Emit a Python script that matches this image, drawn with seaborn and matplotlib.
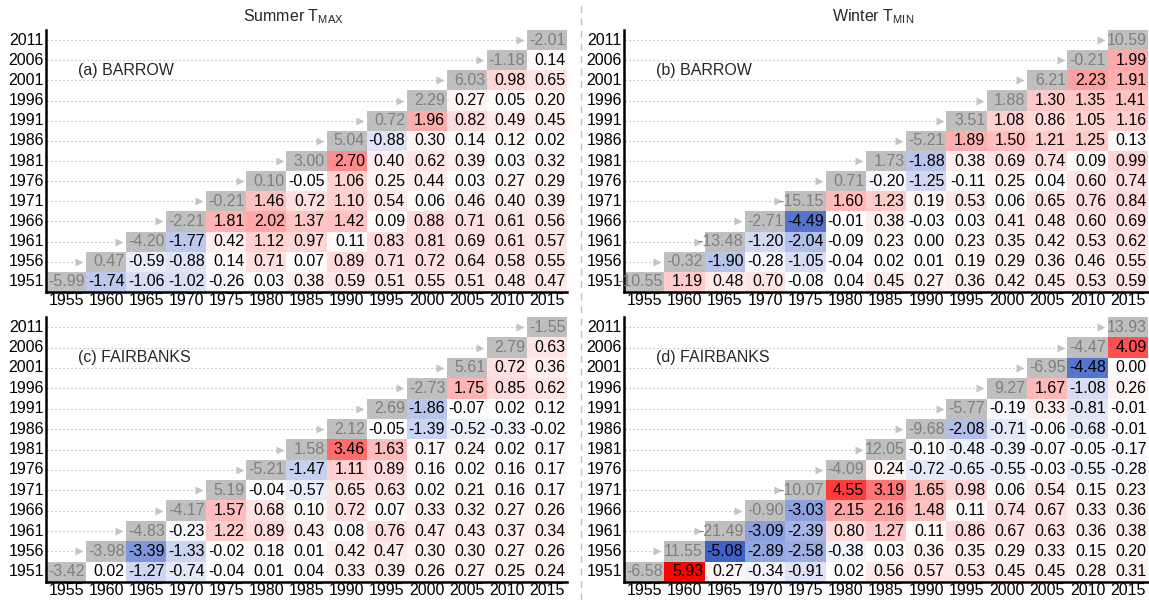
import numpy as np
import pandas as pd
import matplotlib
matplotlib.use("Agg")
import matplotlib.pyplot as plt
import seaborn as sns
from matplotlib.colors import LinearSegmentedColormap, ListedColormap
from matplotlib.lines import Line2D
from matplotlib import font_manager

# ---------------- data ----------------
start_years = [1951, 1956, 1961, 1966, 1971, 1976, 1981, 1986, 1991, 1996, 2001, 2006, 2011]
end_years = [1955, 1960, 1965, 1970, 1975, 1980, 1985, 1990, 1995, 2000, 2005, 2010, 2015]

# each row: start year, values for end years from the diagonal onwards
barrow_tmax = [
    [-5.99, -1.74, -1.06, -1.02, -0.26, 0.03, 0.38, 0.59, 0.51, 0.55, 0.51, 0.48, 0.47],
    [0.47, -0.59, -0.88, 0.14, 0.71, 0.07, 0.89, 0.71, 0.72, 0.64, 0.58, 0.55],
    [-4.20, -1.77, 0.42, 1.12, 0.97, 0.11, 0.83, 0.81, 0.69, 0.61, 0.57],
    [-2.21, 1.81, 2.02, 1.37, 1.42, 0.09, 0.88, 0.71, 0.61, 0.56],
    [-0.21, 1.46, 0.72, 1.10, 0.54, 0.06, 0.46, 0.40, 0.39],
    [0.10, -0.05, 1.06, 0.25, 0.44, 0.03, 0.27, 0.29],
    [3.00, 2.70, 0.40, 0.62, 0.39, 0.03, 0.32],
    [5.04, -0.88, 0.30, 0.14, 0.12, 0.02],
    [0.72, 1.96, 0.82, 0.49, 0.45],
    [2.29, 0.27, 0.05, 0.20],
    [6.03, 0.98, 0.65],
    [-1.18, 0.14],
    [-2.01],
]

barrow_tmin = [
    [-10.55, 1.19, 0.48, 0.70, -0.08, 0.04, 0.45, 0.27, 0.36, 0.42, 0.45, 0.53, 0.59],
    [-0.32, -1.90, -0.28, -1.05, -0.04, 0.02, 0.01, 0.19, 0.29, 0.36, 0.46, 0.55],
    [-13.48, -1.20, -2.04, -0.09, 0.23, 0.00, 0.23, 0.35, 0.42, 0.53, 0.62],
    [-2.71, -4.49, -0.01, 0.38, -0.03, 0.03, 0.41, 0.48, 0.60, 0.69],
    [-15.15, 1.60, 1.23, 0.19, 0.53, 0.06, 0.65, 0.76, 0.84],
    [0.71, -0.20, -1.25, -0.11, 0.25, 0.04, 0.60, 0.74],
    [1.73, -1.88, 0.38, 0.69, 0.74, 0.09, 0.99],
    [-5.21, 1.89, 1.50, 1.21, 1.25, 0.13],
    [3.51, 1.08, 0.86, 1.05, 1.16],
    [1.88, 1.30, 1.35, 1.41],
    [6.21, 2.23, 1.91],
    [-0.21, 1.99],
    [10.59],
]

fairbanks_tmax = [
    [-3.42, 0.02, -1.27, -0.74, -0.04, 0.01, 0.04, 0.33, 0.39, 0.26, 0.27, 0.25, 0.24],
    [-3.98, -3.39, -1.33, -0.02, 0.18, 0.01, 0.42, 0.47, 0.30, 0.30, 0.27, 0.26],
    [-4.83, -0.23, 1.22, 0.89, 0.43, 0.08, 0.76, 0.47, 0.43, 0.37, 0.34],
    [-4.17, 1.57, 0.68, 0.10, 0.72, 0.07, 0.33, 0.32, 0.27, 0.26],
    [5.19, -0.04, -0.57, 0.65, 0.63, 0.02, 0.21, 0.16, 0.17],
    [-5.21, -1.47, 1.11, 0.89, 0.16, 0.02, 0.16, 0.17],
    [1.58, 3.46, 1.63, 0.17, 0.24, 0.02, 0.17],
    [2.12, -0.05, -1.39, -0.52, -0.33, -0.02],
    [2.69, -1.86, -0.07, 0.02, 0.12],
    [-2.73, 1.75, 0.85, 0.62],
    [5.61, 0.72, 0.36],
    [2.79, 0.63],
    [-1.55],
]

fairbanks_tmin = [
    [-6.58, 5.93, 0.27, -0.34, -0.91, 0.02, 0.56, 0.57, 0.53, 0.45, 0.45, 0.28, 0.31],
    [11.55, -5.08, -2.89, -2.58, -0.38, 0.03, 0.36, 0.35, 0.29, 0.33, 0.15, 0.20],
    [-21.49, -3.09, -2.39, 0.80, 1.27, 0.11, 0.86, 0.67, 0.63, 0.36, 0.38],
    [-0.90, -3.03, 2.15, 2.16, 1.48, 0.11, 0.74, 0.67, 0.33, 0.36],
    [-10.07, 4.55, 3.19, 1.65, 0.98, 0.06, 0.54, 0.15, 0.23],
    [-4.09, 0.24, -0.72, -0.65, -0.55, -0.03, -0.55, -0.28],
    [12.05, -0.10, -0.48, -0.39, -0.07, -0.05, -0.17],
    [-9.68, -2.08, -0.71, -0.06, -0.68, -0.01],
    [-5.77, -0.19, 0.33, -0.81, -0.01],
    [9.27, 1.67, -1.08, 0.26],
    [-6.95, -4.48, 0.00],
    [-4.47, 4.09],
    [13.93],
]

panel_labels = ["(a) BARROW", "(b) BARROW", "(c) FAIRBANKS", "(d) FAIRBANKS"]
column_titles = [r"Summer T$_{\mathrm{MAX}}$", r"Winter T$_{\mathrm{MIN}}$"]

# ---------------- style ----------------
sns.set_style("white")

names = {f.name for f in font_manager.fontManager.ttflist}
if "Liberation Sans Narrow" in names:
    FONT, FS = "Liberation Sans Narrow", 13
elif "Liberation Sans" in names:
    FONT, FS = "Liberation Sans", 11.5
else:
    FONT, FS = "DejaVu Sans", 10.5

plt.rcParams["font.family"] = [FONT, "DejaVu Sans"]
plt.rcParams["mathtext.fontset"] = "custom"
plt.rcParams["mathtext.rm"] = FONT
plt.rcParams["mathtext.it"] = FONT
plt.rcParams["mathtext.bf"] = FONT

cmap = LinearSegmentedColormap.from_list(
    "trend", [(0.0, "#1e46be"), (0.5, "#ffffff"), (1.0, "#ff0000")])
gray_cmap = ListedColormap(["#bfbfbf"])

W, H = 1149, 600
fig = plt.figure(figsize=(W / 100, H / 100), dpi=100)
fig.patch.set_facecolor("white")

n = len(start_years)


def build_frames(rows):
    mat = np.full((n, n), np.nan)
    for i, vals in enumerate(rows):
        for off, v in enumerate(vals):
            mat[i, i + off] = v
    df = pd.DataFrame(mat, index=start_years, columns=end_years)
    df = df.iloc[::-1]  # latest start year on top
    ii = np.array([start_years.index(y) for y in df.index])[:, None]
    kk = np.arange(n)[None, :]
    off_mask = (kk <= ii) | df.isna().values
    diag_mask = kk != ii
    return df, off_mask, diag_mask


# axes rectangles in pixels: left, top, right, bottom
rects = [
    (46, 30, 567, 292),
    (624, 30, 1148, 292),
    (46, 317, 567, 582),
    (624, 317, 1148, 582),
]
datasets = [barrow_tmax, barrow_tmin, fairbanks_tmax, fairbanks_tmin]

for p, (rows, rect) in enumerate(zip(datasets, rects)):
    l, t, r, b = rect
    ax = fig.add_axes([l / W, 1 - b / H, (r - l) / W, (b - t) / H])
    df, off_mask, diag_mask = build_frames(rows)

    sns.heatmap(df, ax=ax, mask=off_mask, cmap=cmap, vmin=-6, vmax=6, cbar=False,
                annot=True, fmt=".2f",
                annot_kws=dict(fontsize=FS, color="black", ha="right"),
                xticklabels=end_years, yticklabels=list(df.index))
    sns.heatmap(df, ax=ax, mask=diag_mask, cmap=gray_cmap, vmin=-100, vmax=100, cbar=False,
                annot=True, fmt=".2f",
                annot_kws=dict(fontsize=FS, color="#7f7f7f", ha="right"),
                xticklabels=end_years, yticklabels=list(df.index))
    # right-align numbers inside their cells
    for txt in ax.texts:
        x, y = txt.get_position()
        txt.set_position((x + 0.46, y))

    # dotted arrows from the axis to the diagonal cell
    for i in range(1, n):
        yc = (n - 1 - i) + 0.5
        ax.plot([0.02, i - 0.2], [yc, yc], ls=(0, (1, 2.2)), color="#b3b3b3", lw=0.9,
                zorder=1)
        ax.plot([i - 0.17], [yc], marker=">", ms=5.5, color="#c4c4c4", mec="none",
                zorder=1)

    for side in ["left", "bottom"]:
        ax.spines[side].set_visible(True)
        ax.spines[side].set_color("black")
        ax.spines[side].set_linewidth(1.8)
    for side in ["top", "right"]:
        ax.spines[side].set_visible(False)
    ax.tick_params(axis="both", length=0, labelsize=FS, pad=1.5, colors="black")
    ax.tick_params(axis="x", pad=1.0)
    ax.set_xticklabels([str(y) for y in end_years], rotation=0)
    ax.set_yticklabels([str(y) for y in df.index], rotation=0)
    ax.set_xlabel("")
    ax.set_ylabel("")

    ax.text(0.8, 2.0, panel_labels[p], fontsize=FS, ha="left", va="center")

fig.text(293 / W, 1 - 17 / H, column_titles[0], ha="center", va="center", fontsize=FS)
fig.text(873 / W, 1 - 17 / H, column_titles[1], ha="center", va="center", fontsize=FS)

fig.add_artist(Line2D([581 / W, 581 / W], [0, 1], transform=fig.transFigure,
                      ls=(0, (5, 4)), color="#c0c0c0", lw=1.0))

fig.savefig("out.png", dpi=100, facecolor="white")
